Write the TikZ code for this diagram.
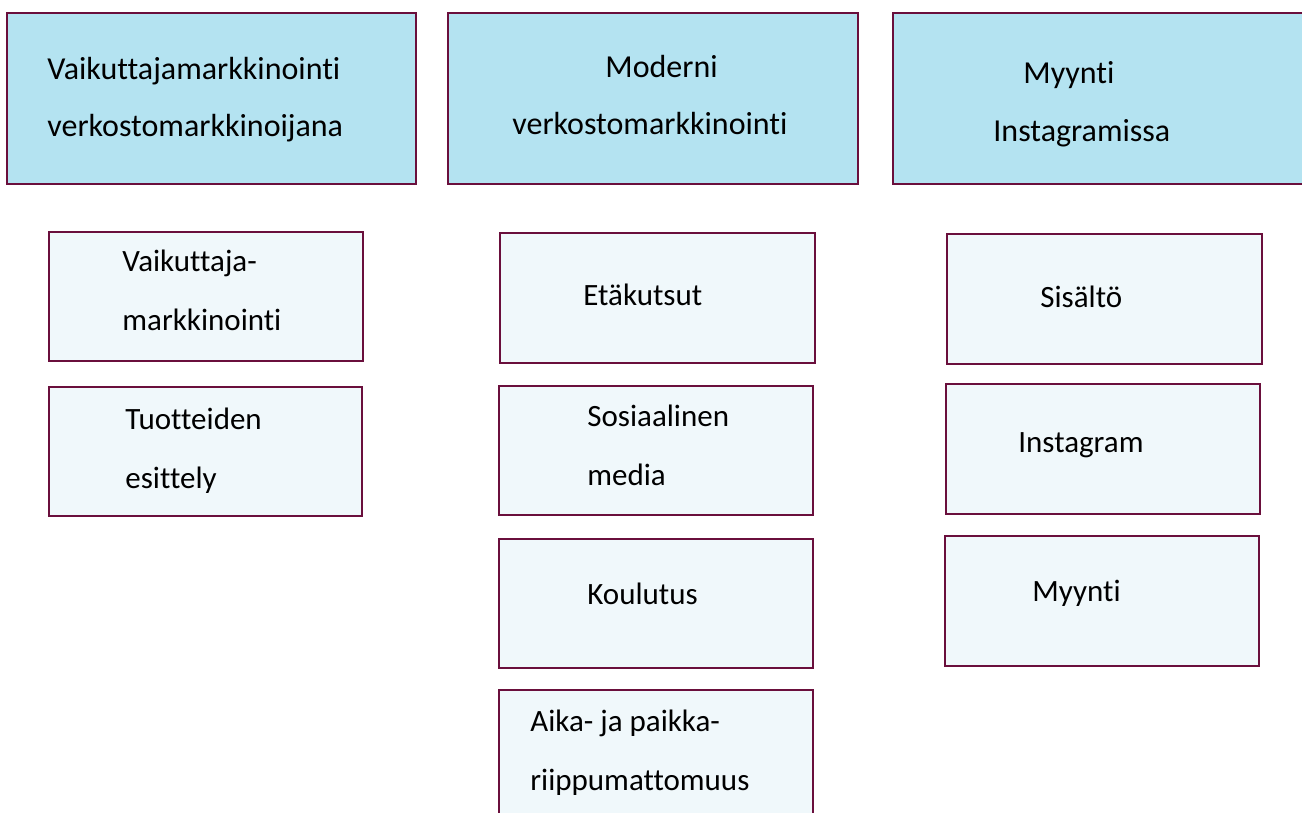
\documentclass[tikz,border=0pt]{standalone}
\usepackage{fontspec}
\setmainfont[Ligatures=NoCommon]{Carlito}
\usetikzlibrary{fit}
\definecolor{bordc}{HTML}{6A0F3C}
\definecolor{topfill}{HTML}{B4E3F1}
\definecolor{subfill}{HTML}{F0F8FB}
\tikzset{
  topbox/.style={draw=bordc, fill=topfill, line width=1.3pt, inner sep=0pt},
  subbox/.style={draw=bordc, fill=subfill, line width=1.3pt, inner sep=0pt},
  lbl/.style={anchor=base west, align=left, inner sep=0pt, font=\fontsize{15.5}{29.5}\selectfont},
  toplbl/.style={lbl, font=\fontsize{16}{28.5}\selectfont}
}
\begin{document}
\begin{tikzpicture}[x=0.5pt,y=-0.5pt]
\useasboundingbox (0,0) rectangle (1302,813);
% top boxes
\node[topbox, fit={(7,13) (416,184)}] (h1) {};
\node[topbox, fit={(448,13) (858,184)}] (h2) {};
\node[topbox, fit={(893,13) (1312,184)}] (h3) {};
% column 1
\node[subbox, fit={(49,232) (363,361)}] (a1) {};
\node[subbox, fit={(49,387) (362,516)}] (a2) {};
% column 2
\node[subbox, fit={(500,233) (815,363)}] (b1) {};
\node[subbox, fit={(499,386) (813,515)}] (b2) {};
\node[subbox, fit={(499,539) (813,668)}] (b3) {};
\node[subbox, fit={(499,690) (813,830)}] (b4) {};
% column 3
\node[subbox, fit={(947,234) (1262,364)}] (c1) {};
\node[subbox, fit={(946,384) (1260,514)}] (c2) {};
\node[subbox, fit={(945,536) (1259,666)}] (c3) {};
% labels (base anchor = baseline of last line)
\node[toplbl] (th1) at (47,137) {Vaikuttajamarkkinointi\\verkostomarkkinoijana};
\node[toplbl] (th2) at (512,135) {\hspace*{46.5pt}Moderni\\verkostomarkkinointi};
\node[toplbl] (th3) at (993,141) {\hspace*{15pt}Myynti\\Instagramissa};
\node[lbl] (ta1) at (122,330) {Vaikuttaja-\\markkinointi};
\node[lbl] (ta2) at (125,488) {Tuotteiden\\esittely};
\node[lbl] (tb1) at (583,305) {Etäkutsut};
\node[lbl] (tb2) at (587,485) {Sosiaalinen\\media};
\node[lbl] (tb3) at (587,604) {Koulutus};
\node[lbl] (tb4) at (530,790) {Aika- ja paikka-\\riippumattomuus};
\node[lbl] (tc1) at (1040,307) {Sisältö};
\node[lbl] (tc2) at (1018,452) {Instagram};
\node[lbl] (tc3) at (1032,601) {Myynti};
\end{tikzpicture}
\end{document}
